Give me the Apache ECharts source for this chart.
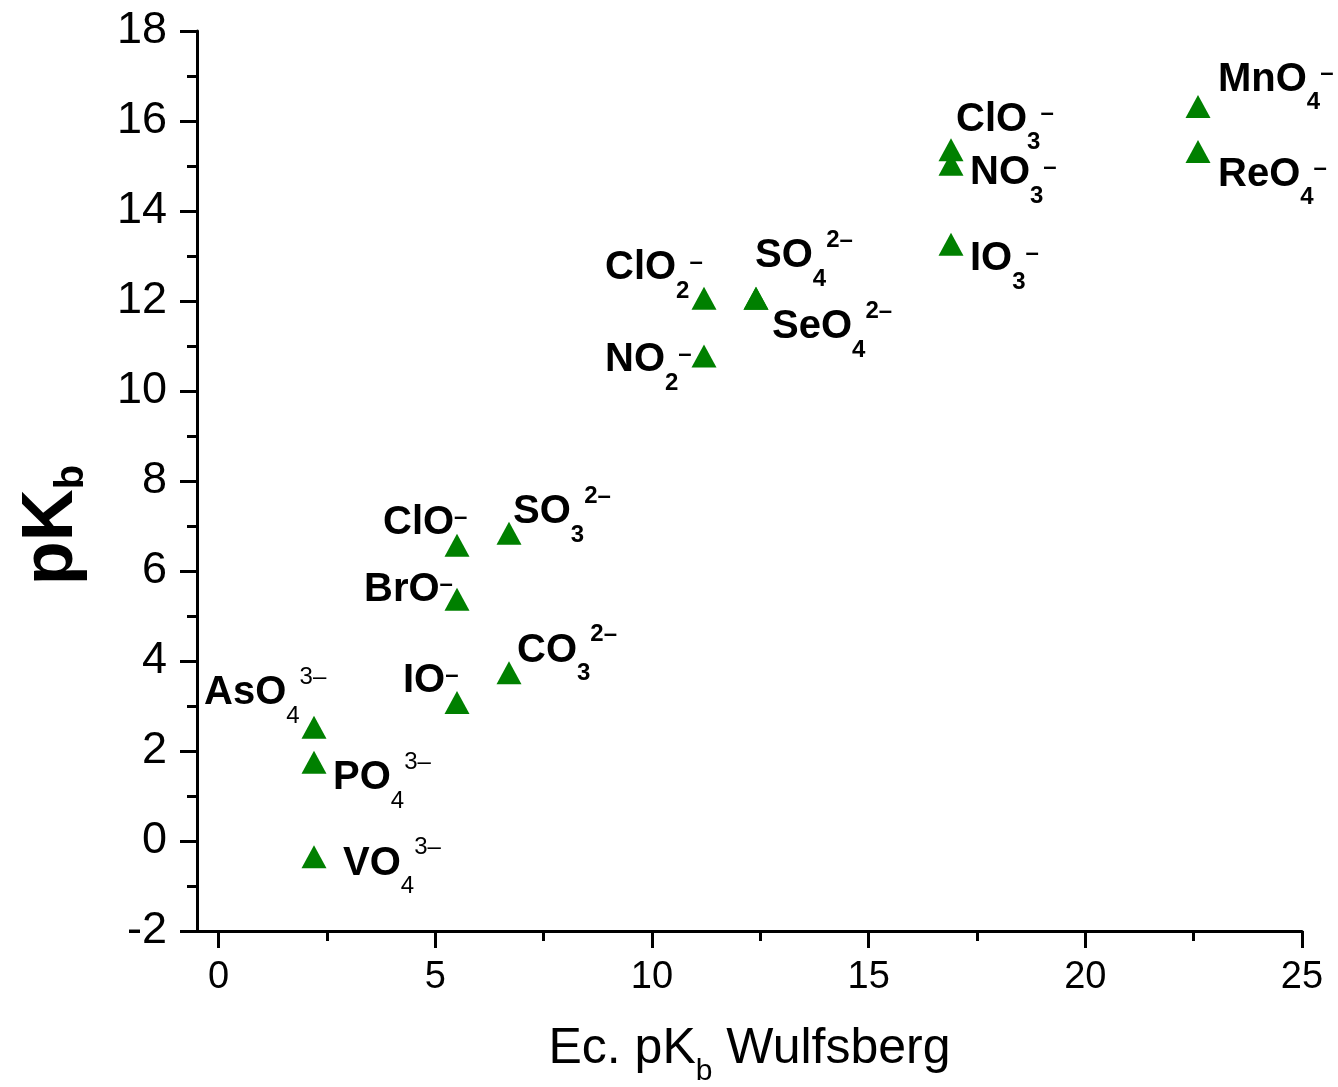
<!DOCTYPE html>
<html>
<head>
<meta charset="utf-8">
<script src="https://cdn.jsdelivr.net/npm/echarts@6/dist/echarts.min.js"></script>
<style>
  html, body { margin: 0; padding: 0; background: #fff; }
  #chart { width: 1338px; height: 1087px; }
</style>
</head>
<body>
<div id="chart"></div>
<script>
// data
const wulfsberg = [2.2, 2.2, 2.2, 5.5, 5.5, 5.5, 6.7, 6.7, 11.2, 11.2, 12.4, 12.4, 16.9, 16.9, 16.9, 22.6, 22.6];
const pKb = [2.53, 1.75, -0.35, 6.57, 5.37, 3.08, 6.84, 3.74, 12.06, 10.78, 12.06, 12.06, 15.36, 15.04, 13.26, 16.32, 15.32];
const ions = [
  '{m|AsO}{sn|4}{pn|3–}', '{m|PO}{sn|4}{pn|3–}', '{m|VO}{sn|4}{pn|3–}',
  '{m|ClO}{d|–}', '{m|BrO}{d|–}', '{m|IO}{d|–}',
  '{m|SO}{s|3}{p|2–}', '{m|CO}{s|3}{p|2–}',
  '{m|ClO}{s|2}{d|–}', '{m|NO}{s|2}{d|–}',
  '{m|SO}{s|4}{p|2–}', '{m|SeO}{s|4}{p|2–}',
  '{m|ClO}{s|3}{d|–}', '{m|NO}{s|3}{d|–}', '{m|IO}{s|3}{d|–}',
  '{m|MnO}{s|4}{d|–}', '{m|ReO}{s|4}{d|–}'
];
const xTicks = [0, 5, 10, 15, 20, 25];
const xMinorTicks = [2.5, 7.5, 12.5, 17.5, 22.5];

// where each label sits relative to its triangle (px)
const labelOffsets = [
  [-110, -34], [19, 16], [29, 7],
  [-74, -22], [-93, -9], [-54, -21],
  [4, -21], [8, -22],
  [-99, -30], [-99, 4],
  [-1, -42], [16, 29],
  [5, -30], [19, 9], [19, 15],
  [20, -27], [20, 23]
];

const font = 'Liberation Sans, Arial, sans-serif';

// sub / superscripts
const formulaRich = {
  m: { fontSize: 40, fontWeight: 'bold', lineHeight: 70, color: '#000', fontFamily: font },
  s: { fontSize: 24, fontWeight: 'bold', lineHeight: 24, verticalAlign: 'bottom', color: '#000', fontFamily: font },
  sn: { fontSize: 24, lineHeight: 24, verticalAlign: 'bottom', color: '#000', fontFamily: font },
  p: { fontSize: 24, fontWeight: 'bold', lineHeight: 24, verticalAlign: 'top', padding: [7, 0, 0, 0], color: '#000', fontFamily: font },
  pn: { fontSize: 24, lineHeight: 24, verticalAlign: 'top', padding: [7, 0, 0, 0], color: '#000', fontFamily: font },
  d: { fontSize: 24, fontWeight: 'bold', lineHeight: 24, verticalAlign: 'top', padding: [17, 0, 0, 0], color: '#000', fontFamily: font }
};

const points = wulfsberg.map((x, i) => ({
  value: [x, pKb[i]],
  label: { formatter: ions[i], offset: labelOffsets[i] }
}));

const chart = echarts.init(document.getElementById('chart'));
chart.setOption({
  animation: false,
  backgroundColor: '#fff',
  grid: { left: 197, right: 36, top: 31, bottom: 156, outerBoundsMode: 'none', containLabel: false },
  xAxis: [
    {
      type: 'value',
      min: -0.5,
      max: 25,
      axisLine: { show: true, onZero: false, lineStyle: { color: '#000', width: 3 } },
      axisTick: { show: true, customValues: xTicks, length: 17, lineStyle: { color: '#000', width: 3 } },
      axisLabel: { customValues: xTicks, fontSize: 38, color: '#000', margin: 28, fontFamily: font },
      splitLine: { show: false },
      name: 'Ec. pK{b|b} Wulfsberg',
      nameLocation: 'middle',
      nameGap: 80,
      nameTextStyle: {
        fontSize: 50, color: '#000', fontFamily: font,
        rich: {
          b: { fontSize: 30, lineHeight: 30, verticalAlign: 'bottom', color: '#000', fontFamily: font }
        },
        lineHeight: 76
      }
    },
    {
      // minor ticks only
      type: 'value',
      min: -0.5,
      max: 25,
      position: 'bottom',
      axisLine: { show: false, onZero: false },
      axisTick: { show: true, customValues: xMinorTicks, length: 10, lineStyle: { color: '#000', width: 3 } },
      axisLabel: { show: false },
      splitLine: { show: false }
    }
  ],
  yAxis: {
    type: 'value',
    min: -2,
    max: 18,
    interval: 2,
    axisLine: { show: true, onZero: false, lineStyle: { color: '#000', width: 3 } },
    axisTick: { show: true, length: 17, lineStyle: { color: '#000', width: 3 } },
    minorTick: { show: true, splitNumber: 2, length: 10, lineStyle: { color: '#000', width: 3 } },
    axisLabel: { fontSize: 45, color: '#000', margin: 30, fontFamily: font },
    splitLine: { show: false },
    name: '{m|pK}{s|b}',
    nameLocation: 'middle',
    nameGap: 105,
    nameTextStyle: {
      padding: [0, 88, 0, 0],
      rich: {
        m: { fontSize: 72, fontWeight: 'bold', lineHeight: 80, color: '#000', fontFamily: font },
        s: { fontSize: 40, fontWeight: 'bold', lineHeight: 30, verticalAlign: 'bottom', color: '#000', fontFamily: font }
      }
    }
  },
  series: [
    {
      type: 'scatter',
      xAxisIndex: 0,
      symbol: 'triangle',
      symbolSize: [25, 23],
      itemStyle: { color: '#008000', opacity: 1 },
      label: {
        show: true,
        position: 'inside',
        align: 'left',
        verticalAlign: 'middle',
        rich: formulaRich
      },
      emphasis: { disabled: true },
      data: points
    }
  ]
});
</script>
</body>
</html>
